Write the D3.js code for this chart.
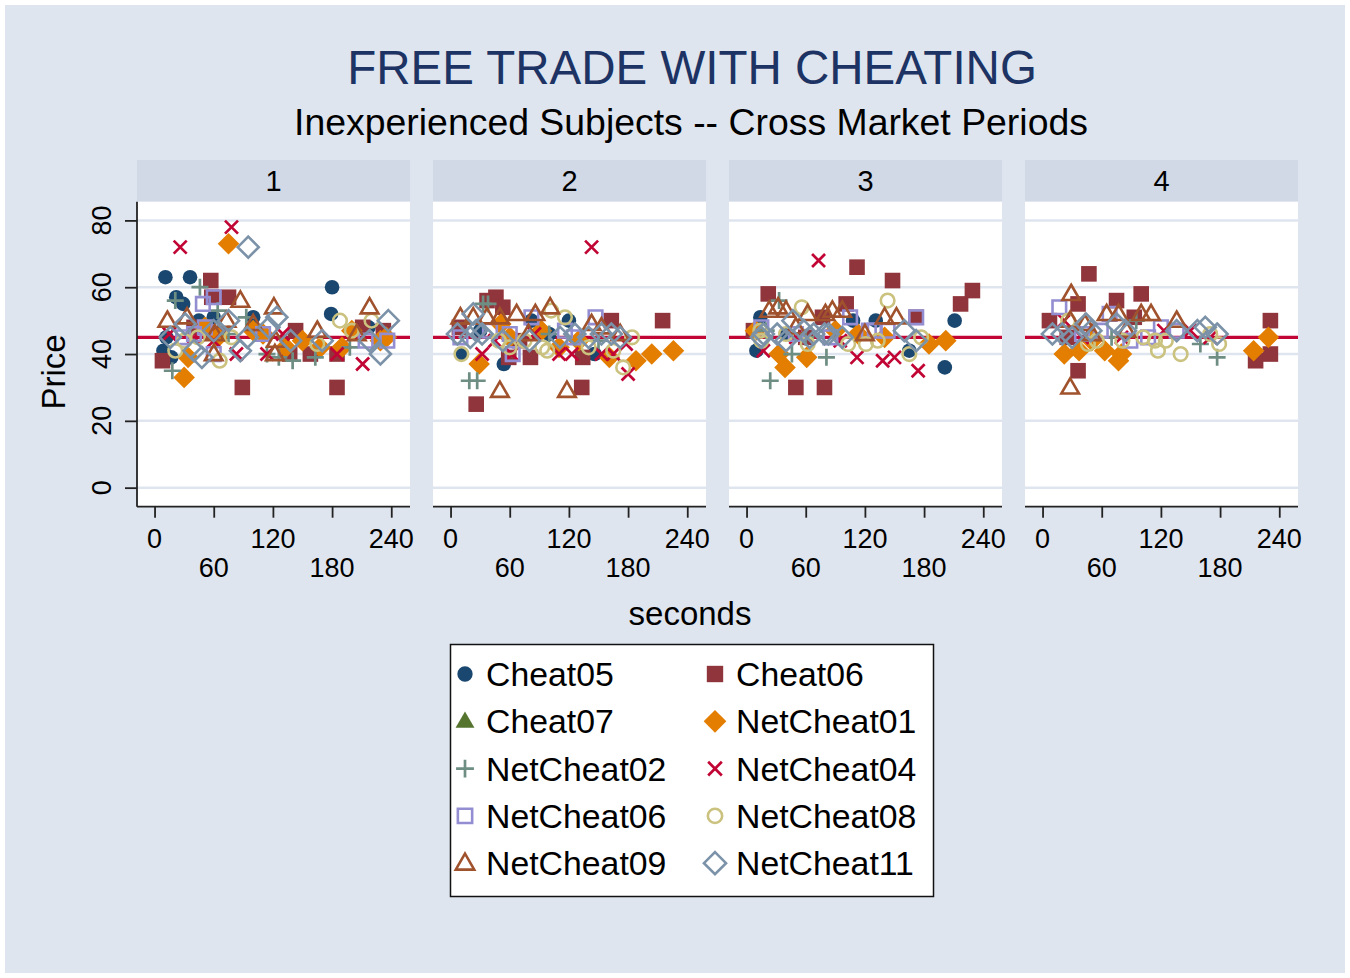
<!DOCTYPE html>
<html>
<head>
<meta charset="utf-8">
<script src="https://cdnjs.cloudflare.com/ajax/libs/d3/7.8.5/d3.min.js"></script>
<style>
  body { margin: 0; background: #ffffff; }
  text { font-family: "Liberation Sans", Arial, sans-serif; }
</style>
</head>
<body>
<svg id="chart" width="1350" height="978"></svg>
<script>
// periods shown as panels, axis ticks and the reference price
var periods = [1, 2, 3, 4];
var xTicks = [0, 60, 120, 180, 240];
var yTicks = [0, 20, 40, 60, 80];
var refPrice = 45;

var seriesNames = ["Cheat05", "Cheat06", "Cheat07", "NetCheat01", "NetCheat02",
                   "NetCheat04", "NetCheat06", "NetCheat08", "NetCheat09", "NetCheat11"];

// each point: [period, seconds, price]
var cheat05 = [[1,11,63],[1,36,63],[1,22,57],[1,29,55],[1,9,41],[1,17,39],[1,12,45],[1,60,51],[1,100,51],[1,180,60],[1,179,52],[1,217,48],[1,45,50],
  [2,11,40],[2,54,37],[2,82,50],[2,120,50],[2,146,40],[2,30,47],[2,100,46],
  [3,10,41],[3,14,51],[3,108,50],[3,131,50],[3,165,41],[3,201,36],[3,211,50],[3,40,46]];
var cheat06 = [[1,8,38],[1,57,62],[1,58,57],[1,75,57],[1,89,30],[1,185,30],[1,143,47],[1,137,40],[1,158,40],[1,185,40],[1,211,48],[1,232,47],[1,40,48],[1,65,46],
  [2,9,48],[2,26,25],[2,37,56],[2,46,57],[2,53,54],[2,59,39],[2,81,39],[2,133,30],[2,134,39],[2,163,50],[2,215,50],[2,70,44],
  [3,7,47],[3,22,58],[3,50,30],[3,77,51],[3,79,30],[3,101,55],[3,112,66],[3,148,62],[3,172,51],[3,217,55],[3,229,59],[3,60,45],
  [4,7,50],[4,36,55],[4,36,35],[4,47,64],[4,75,56],[4,93,51],[4,100,58],[4,216,38],[4,231,50],[4,231,40],[4,25,45]];
var cheat07 = [];
var netCheat01 = [[1,75,73],[1,30,33],[1,34,39],[1,51,48],[1,64,45],[1,110,46],[1,133,42],[1,150,44],[1,168,42],[1,190,42],[1,200,47],[1,229,44],[1,235,45],[1,100,47],
  [2,29,37],[2,51,49],[2,60,45],[2,92,47],[2,110,42],[2,161,39],[2,188,38],[2,204,40],[2,226,41],[2,130,44],
  [3,9,47],[3,33,40],[3,39,36],[3,61,39],[3,113,46],[3,185,43],[3,202,44],[3,90,47],[3,140,45],
  [4,22,40],[4,37,41],[4,63,41],[4,77,38],[4,80,40],[4,50,44],[4,214,41],[4,229,45]];
var netCheat02 = [[1,18,35],[1,21,56],[1,46,60],[1,64,53],[1,93,51],[1,126,39],[1,140,38],[1,163,39],[1,198,42],[1,114,40],[1,75,46],
  [2,19,32],[2,27,32],[2,33,55],[2,38,55],[2,100,46],[2,150,44],
  [3,24,32],[3,33,56],[3,46,40],[3,81,39],[3,20,47],[3,60,45],
  [4,95,50],[4,160,43],[4,177,39],[4,70,45]];
var netCheat04 = [[1,26,72],[1,78,78],[1,83,40],[1,114,40],[1,185,40],[1,211,37],[1,15,46],[1,40,45],[1,60,44],[1,130,46],
  [2,143,72],[2,32,40],[2,62,40],[2,110,40],[2,123,40],[2,153,40],[2,165,40],[2,178,43],[2,180,34],[2,45,44],[2,85,46],
  [3,73,68],[3,17,41],[3,112,39],[3,138,38],[3,150,39],[3,174,35],[3,50,45],[3,95,44],
  [4,22,50],[4,40,45],[4,80,45],[4,123,47],[4,150,47],[4,170,45]];
var netCheat06 = [[1,29,45],[1,49,55],[1,60,57],[1,51,48],[1,60,40],[1,40,46],[1,214,44],[1,236,44],[1,110,46],
  [2,10,45],[2,40,47],[2,63,40],[2,82,51],[2,116,47],[2,147,51],[2,125,45],[2,60,46],
  [3,15,48],[3,50,46],[3,105,51],[3,124,47],[3,130,47],[3,143,47],[3,172,51],[3,85,45],
  [4,17,54],[4,59,47],[4,68,52],[4,89,44],[4,107,45],[4,120,48],[4,136,47],[4,40,46]];
var netCheat08 = [[1,21,41],[1,44,45],[1,66,38],[1,78,45],[1,165,43],[1,188,50],[1,200,47],[1,220,50],[1,30,44],
  [2,11,40],[2,49,44],[2,60,42],[2,93,42],[2,98,41],[2,102,53],[2,116,51],[2,140,42],[2,165,41],[2,175,36],[2,184,45],[2,75,44],
  [3,14,47],[3,15,44],[3,56,54],[3,62,43],[3,103,43],[3,121,43],[3,133,44],[3,143,56],[3,165,40],[3,177,45],[3,40,46],
  [4,26,50],[4,46,43],[4,55,44],[4,81,44],[4,102,45],[4,114,44],[4,117,41],[4,125,44],[4,140,40],[4,170,46],[4,179,43]];
var netCheat09 = [[1,13,50],[1,33,51],[1,61,46],[1,60,40],[1,73,50],[1,87,56],[1,121,54],[1,123,44],[1,122,40],[1,165,47],[1,205,46],[1,218,54],[1,100,49],
  [2,10,51],[2,23,51],[2,37,51],[2,50,51],[2,67,52],[2,79,46],[2,86,52],[2,101,54],[2,143,49],[2,153,48],[2,172,46],[2,50,29],[2,118,29],
  [3,23,53],[3,32,54],[3,40,53],[3,62,52],[3,80,52],[3,87,53],[3,97,53],[3,140,51],[3,152,51],[3,50,48],[3,120,46],
  [4,29,58],[4,28,50],[4,43,49],[4,50,46],[4,65,52],[4,77,52],[4,100,52],[4,110,52],[4,136,50],[4,28,30],[4,85,47]];
var netCheat11 = [[1,95,72],[1,16,45],[1,31,49],[1,40,41],[1,48,39],[1,75,50],[1,87,41],[1,94,45],[1,116,48],[1,124,51],[1,138,44],[1,170,44],[1,218,44],[1,229,40],[1,237,50],[1,60,47],
  [2,7,46],[2,20,45],[2,23,52],[2,32,46],[2,53,44],[2,80,44],[2,111,45],[2,126,46],[2,140,45],[2,153,46],[2,163,46],[2,172,45],[2,26,47],
  [3,15,45],[3,17,46],[3,31,46],[3,47,50],[3,58,47],[3,64,45],[3,68,46],[3,79,46],[3,83,46],[3,97,45],[3,160,47],[3,172,44],[3,40,44],
  [4,10,46],[4,20,46],[4,30,45],[4,44,49],[4,49,47],[4,75,49],[4,84,47],[4,136,47],[4,157,47],[4,165,48],[4,177,46]];

var seriesData = [cheat05, cheat06, cheat07, netCheat01, netCheat02,
                  netCheat04, netCheat06, netCheat08, netCheat09, netCheat11];

// marker style per series (stata s2color look)
var styles = [
  {shape: "circle",   color: "#1a476f", fill: true},
  {shape: "square",   color: "#90353b", fill: true},
  {shape: "triangle", color: "#55752f", fill: true},
  {shape: "diamond",  color: "#e37e00", fill: true},
  {shape: "plus",     color: "#6e8e84", fill: false},
  {shape: "x",        color: "#c10534", fill: false},
  {shape: "square",   color: "#938dd2", fill: false},
  {shape: "circle",   color: "#cac27e", fill: false},
  {shape: "triangle", color: "#a0522d", fill: false},
  {shape: "diamond",  color: "#7b92a8", fill: false}
];

var svg = d3.select("#chart");
var bg = "#dfe5ef";

svg.append("rect").attr("x", 5).attr("y", 5).attr("width", 1340).attr("height", 968).attr("fill", bg);

// titles
svg.append("text").attr("x", 692).attr("y", 84).attr("text-anchor", "middle")
  .attr("font-size", 47.5).attr("fill", "#1c3364").text("FREE TRADE WITH CHEATING");
svg.append("text").attr("x", 691).attr("y", 135).attr("text-anchor", "middle")
  .attr("font-size", 37.4).attr("fill", "#000").text("Inexperienced Subjects -- Cross Market Periods");

var panelW = 273, panelStep = 296, panelLeft = 137;
var plotTop = 201.7, plotBottom = 506.7, stripTop = 160;

var x = d3.scaleLinear().domain([-17.8, 259]).range([0, panelW]);
var y = d3.scaleLinear().domain([-5.7, 85.6]).range([plotBottom, plotTop]);

// shape paths, centred at 0,0
function markerPath(shape, s) {
  var p = d3.path();
  if (shape === "circle") {
    p.arc(0, 0, s, 0, 2 * Math.PI);
  } else if (shape === "square") {
    p.rect(-s, -s, 2 * s, 2 * s);
  } else if (shape === "triangle") {
    var h = s * Math.sqrt(3);
    p.moveTo(0, -h * 0.6); p.lineTo(s, h * 0.4); p.lineTo(-s, h * 0.4); p.closePath();
  } else if (shape === "diamond") {
    p.moveTo(0, -s); p.lineTo(s, 0); p.lineTo(0, s); p.lineTo(-s, 0); p.closePath();
  } else if (shape === "plus") {
    p.moveTo(-s, 0); p.lineTo(s, 0); p.moveTo(0, -s); p.lineTo(0, s);
  } else if (shape === "x") {
    p.moveTo(-s, -s); p.lineTo(s, s); p.moveTo(-s, s); p.lineTo(s, -s);
  }
  return p.toString();
}

var sizes = {
  filled: {circle: 7.3, square: 7.8, triangle: 9, diamond: 10.8},
  hollow: {circle: 6.8, square: 6.8, triangle: 8.8, diamond: 10.5, plus: 8.5, x: 6.5}
};

function drawMarker(g, st, cx, cy, scale) {
  var s = (st.fill ? sizes.filled[st.shape] : sizes.hollow[st.shape]) * scale;
  var m = g.append("path").attr("d", markerPath(st.shape, s))
    .attr("transform", "translate(" + cx + "," + cy + ")");
  if (st.fill) {
    m.attr("fill", st.color).attr("stroke", "none");
  } else {
    m.attr("fill", "none").attr("stroke", st.color)
      .attr("stroke-width", (st.shape === "plus" || st.shape === "x") ? 2.7 : 2.6);
  }
}

periods.forEach(function(per, i) {
  var g = svg.append("g").attr("transform", "translate(" + (panelLeft + i * panelStep) + ",0)");

  // strip
  g.append("rect").attr("x", 0).attr("y", stripTop).attr("width", panelW).attr("height", plotTop - stripTop)
    .attr("fill", "#d1d8e6");
  g.append("text").attr("x", panelW / 2).attr("y", 191).attr("text-anchor", "middle")
    .attr("font-size", 29).text(per);

  // plot region
  g.append("rect").attr("x", 0).attr("y", plotTop).attr("width", panelW).attr("height", plotBottom - plotTop)
    .attr("fill", "#ffffff");

  g.selectAll(".grid").data(yTicks).enter().append("line")
    .attr("x1", 0).attr("x2", panelW)
    .attr("y1", function(d) { return y(d); }).attr("y2", function(d) { return y(d); })
    .attr("stroke", "#dfe5ef").attr("stroke-width", 2.5);

  // reference line
  g.append("line").attr("x1", 0).attr("x2", panelW).attr("y1", y(refPrice)).attr("y2", y(refPrice))
    .attr("stroke", "#c10534").attr("stroke-width", 3.2);

  // markers, series in order
  seriesData.forEach(function(arr, k) {
    arr.filter(function(d) { return d[0] === per; }).forEach(function(d) {
      drawMarker(g, styles[k], x(d[1]), y(d[2]), 1);
    });
  });

  // x axis
  var xAxis = d3.axisBottom(x).tickValues(xTicks).tickSize(11).tickFormat("");
  var xa = g.append("g").attr("transform", "translate(0," + plotBottom + ")").call(xAxis);
  xa.select(".domain").attr("stroke", "#222").attr("stroke-width", 1.8).attr("d", "M0,0H" + panelW);
  xa.selectAll(".tick line").attr("stroke", "#222").attr("stroke-width", 1.8);

  g.selectAll(".xlab").data(xTicks).enter().append("text")
    .attr("x", function(d) { return x(d); })
    .attr("y", function(d, j) { return j % 2 === 0 ? 548 : 577; })
    .attr("text-anchor", "middle").attr("font-size", 27)
    .text(function(d) { return d; });

  if (i === 0) {
    var yAxis = d3.axisLeft(y).tickValues(yTicks).tickSize(12).tickFormat("");
    var ya = g.append("g").call(yAxis);
    ya.select(".domain").attr("stroke", "#222").attr("stroke-width", 1.8)
      .attr("d", "M0," + plotTop + "V" + plotBottom);
    ya.selectAll(".tick line").attr("stroke", "#222").attr("stroke-width", 1.8);

    g.selectAll(".ylab").data(yTicks).enter().append("text")
      .attr("transform", function(d) { return "translate(-26," + y(d) + ") rotate(-90)"; })
      .attr("text-anchor", "middle").attr("font-size", 27)
      .text(function(d) { return d; });
  }
});

// axis titles
svg.append("text").attr("transform", "translate(65,372) rotate(-90)").attr("text-anchor", "middle")
  .attr("font-size", 33).text("Price");
svg.append("text").attr("x", 690).attr("y", 625).attr("text-anchor", "middle")
  .attr("font-size", 33).text("seconds");

// legend
var lg = svg.append("g");
lg.append("rect").attr("x", 450.5).attr("y", 644.5).attr("width", 483).attr("height", 252)
  .attr("fill", "#ffffff").attr("stroke", "#111").attr("stroke-width", 1.5);
seriesNames.forEach(function(name, k) {
  var col = k % 2, row = Math.floor(k / 2);
  var cx = 465 + col * 250, cy = 674 + row * 47.3;
  drawMarker(lg, styles[k], cx, cy, 1.05);
  lg.append("text").attr("x", cx + 21).attr("y", cy + 12).attr("font-size", 33.8).text(name);
});
</script>
</body>
</html>
